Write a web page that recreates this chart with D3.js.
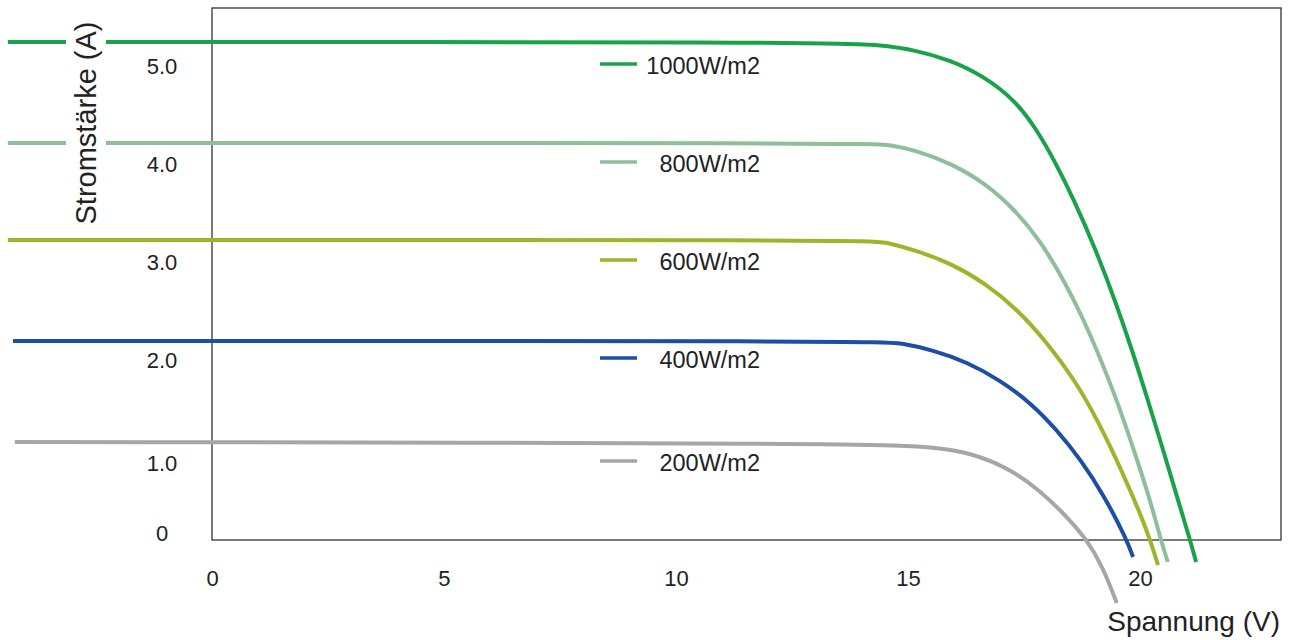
<!DOCTYPE html>
<html>
<head>
<meta charset="utf-8">
<script src="https://cdn.jsdelivr.net/npm/d3@7"></script>
<style>
  body { margin: 0; background: #fff; }
  svg text { font-family: Arial, "Liberation Sans", sans-serif; fill: #222; }
</style>
</head>
<body>
<svg id="chart"></svg>
<script>
// irradiance series (W/m2), legend labels and colours
const seriesNames = ["1000W/m2", "800W/m2", "600W/m2", "400W/m2", "200W/m2"];
const seriesColors = ["#1aa24b", "#8ebf9a", "#9db52a", "#1c4ea6", "#a6a6a6"];

// voltage (V) / current (A) points
const volts1000 = [-4.4, 13.32, 14.4, 15.15, 15.91, 16.59, 17.31, 17.78, 18.15, 18.58, 19.05, 19.46, 19.83, 20.17, 20.5, 20.82, 21.08, 21.21];
const amps1000 = [4.98, 4.98, 4.95, 4.9, 4.8, 4.65, 4.4, 4.1, 3.8, 3.4, 2.9, 2.4, 1.9, 1.4, 0.9, 0.4, 0, -0.22];
const volts800 = [-4.4, 14.18, 14.61, 15.15, 15.91, 16.66, 17.31, 17.84, 18.36, 18.79, 19.16, 19.5, 19.87, 20.22, 20.45, 20.6];
const amps800 = [3.97, 3.97, 3.95, 3.9, 3.77, 3.57, 3.3, 3.0, 2.6, 2.2, 1.8, 1.4, 0.9, 0.4, 0, -0.22];
const volts600 = [-4.4, 14.18, 14.5, 15.15, 15.91, 16.66, 17.37, 17.95, 18.6, 19.12, 19.63, 20.0, 20.22, 20.39];
const amps600 = [3.0, 3.0, 2.98, 2.9, 2.77, 2.57, 2.3, 2.0, 1.6, 1.17, 0.67, 0.27, 0, -0.25];
const volts400 = [-4.29, 14.4, 14.83, 15.54, 16.27, 16.98, 17.65, 18.21, 18.73, 19.22, 19.72, 19.85];
const amps400 = [1.99, 1.99, 1.97, 1.9, 1.78, 1.6, 1.37, 1.1, 0.8, 0.45, 0, -0.17];
const volts200 = [-4.25, 14.4, 15.69, 16.34, 17.13, 17.84, 18.43, 18.86, 19.2, 19.5];
const amps200 = [0.98, 0.97, 0.92, 0.87, 0.73, 0.5, 0.23, 0, -0.27, -0.63];

// axis ticks
const xTicks = [0, 5, 10, 15, 20];
const yTickLabels = ["0", "1.0", "2.0", "3.0", "4.0", "5.0"];
const yTickPlaces = [0.07, 0.77, 1.8, 2.78, 3.76, 4.74];

const w = 1292;
const h = 640;
const padLeft = 212, padRight = 1281, padTop = 8, padBottom = 540;

const svg = d3.select("#chart").attr("width", w).attr("height", h);

const xScale = d3.scaleLinear().domain([0, 23.04]).range([padLeft, padRight]);
const yScale = d3.scaleLinear().domain([0, 5.32]).range([padBottom, padTop]);

const allVolts = [volts1000, volts800, volts600, volts400, volts200];
const allAmps = [amps1000, amps800, amps600, amps400, amps200];
const series = seriesNames.map((name, i) => ({
  name: name,
  color: seriesColors[i],
  values: allVolts[i].map((v, j) => ({ v: v, a: allAmps[i][j] }))
}));

const line = d3.line()
  .x((d) => xScale(d.v))
  .y((d) => yScale(d.a))
  .curve(d3.curveBasis);

// frame
svg.append("rect")
  .attr("x", padLeft)
  .attr("y", padTop)
  .attr("width", padRight - padLeft)
  .attr("height", padBottom - padTop)
  .attr("fill", "none")
  .attr("stroke", "#333")
  .attr("stroke-width", 1.3);

svg.selectAll(".curve")
  .data(series)
  .enter()
  .append("path")
  .attr("class", "curve")
  .attr("d", (d) => line(d.values))
  .attr("fill", "none")
  .attr("stroke", (d) => d.color)
  .attr("stroke-width", 4)
  .attr("stroke-linecap", "butt");

// x axis labels
const xAxis = d3.axisBottom(xScale).tickValues(xTicks).tickSize(0).tickFormat(d3.format("d"));
const gx = svg.append("g").attr("transform", `translate(0, ${padBottom})`).call(xAxis);
gx.select(".domain").remove();
gx.selectAll("text")
  .attr("y", 38)
  .attr("dy", "0.35em")
  .attr("font-size", 22)
  .attr("fill", "#222");

// y axis labels
const yAxis = d3.axisLeft(yScale)
  .tickValues(yTickPlaces)
  .tickSize(0)
  .tickFormat((d, i) => yTickLabels[i]);
const gy = svg.append("g").attr("transform", `translate(${padLeft}, 0)`).call(yAxis);
gy.select(".domain").remove();
gy.selectAll("text")
  .attr("x", -50)
  .attr("dy", "0.35em")
  .attr("text-anchor", "middle")
  .attr("font-size", 22)
  .attr("fill", "#222");

// legend, one row per tick label row
const legend = svg.selectAll(".legend")
  .data(series)
  .enter()
  .append("g")
  .attr("class", "legend")
  .attr("transform", (d, i) => `translate(0, ${yScale(yTickPlaces[5 - i])})`);

legend.append("line")
  .attr("x1", 600)
  .attr("x2", 637)
  .attr("y1", -2)
  .attr("y2", -2)
  .attr("stroke", (d) => d.color)
  .attr("stroke-width", 3.5);

legend.append("text")
  .attr("x", 760)
  .attr("dy", "0.35em")
  .attr("text-anchor", "end")
  .attr("font-size", 23.5)
  .text((d) => d.name);

// axis titles
const titleBg = svg.append("rect").attr("fill", "#fff");
const yTitle = svg.append("text")
  .attr("transform", "translate(96, 123) rotate(-90)")
  .attr("text-anchor", "middle")
  .attr("font-size", 29)
  .text("Stromstärke (A)");

const bb = yTitle.node().getBBox();
titleBg
  .attr("x", 96 + bb.y - 4)
  .attr("y", 123 - bb.x - bb.width)
  .attr("width", bb.height + 8)
  .attr("height", bb.width);

svg.append("text")
  .attr("x", 1280)
  .attr("y", 631)
  .attr("text-anchor", "end")
  .attr("font-size", 28)
  .text("Spannung (V)");
</script>
</body>
</html>
